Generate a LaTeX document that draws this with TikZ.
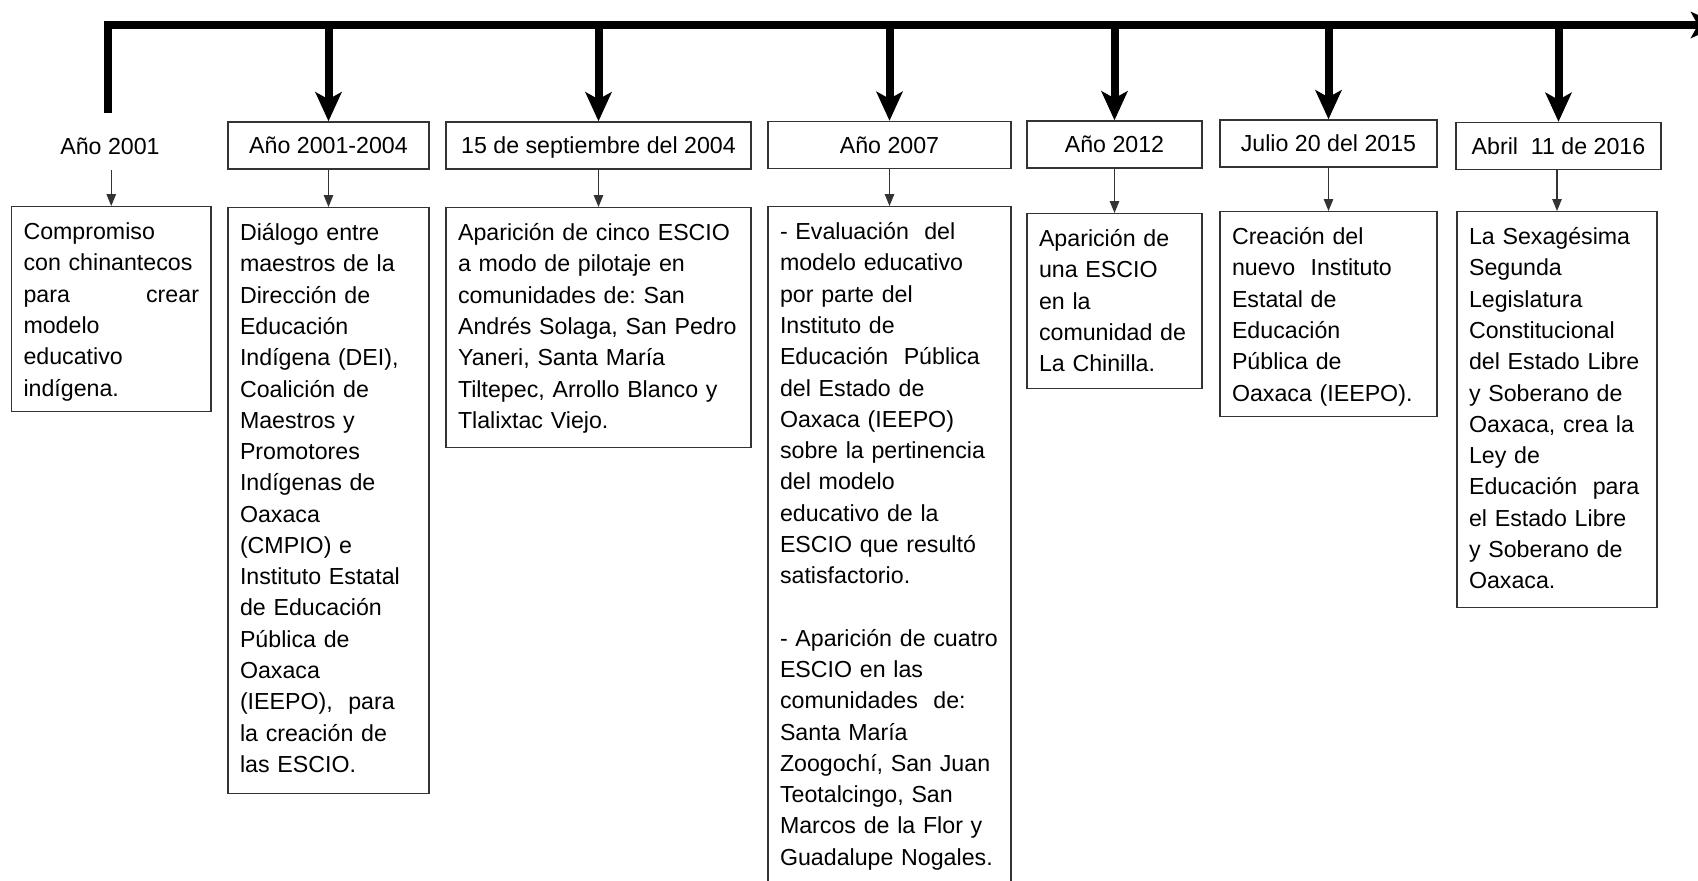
\documentclass[tikz,border=0pt]{standalone}
\usepackage{fontspec}
\setmainfont{Liberation Sans}
\usetikzlibrary{arrows.meta}
\frenchspacing

\tikzset{
  linea/.style={line width=0.16cm, line join=miter},
  flecha/.style={line width=0.16cm, -{Stealth[length=0.58cm,width=0.52cm,inset=0.14cm]}},
  flechita/.style={line width=0.7pt, black!80, -{Triangle[length=0.24cm,width=0.19cm]}},
  encabezado/.style={draw=black!80, line width=0.8pt, inner sep=0pt, minimum height=0.94cm,
    text height=9.5pt, text depth=0pt, font=\fontsize{13.2pt}{17.8pt}\selectfont},
  detalle/.style={draw=black!80, line width=0.8pt, anchor=north, align=left,
    inner xsep=0.24cm, inner ysep=0pt, text height=0.66cm, font=\fontsize{13.2pt}{17.8pt}\selectfont},
}

\begin{document}
\begin{tikzpicture}[x=0.02cm, y=-0.02cm]
\clip (0,0) rectangle (1698,880);

% Linea de tiempo
\coordinate (ini) at (108,113);
\coordinate (fin) at (1720,25);
\draw[linea, -{Stealth[length=0.58cm,width=0.52cm,inset=0.14cm]}] (ini) |- (fin);

% Fechas
\node[encabezado, draw=none] (h1) at (110,146) {Año 2001};
\node[encabezado, minimum width=4.02cm] (h2) at (328.5,145.5) {Año 2001-2004};
\node[encabezado, minimum width=6.1cm] (h3) at (598.5,145.5) {15 de septiembre del 2004};
\node[encabezado, minimum width=4.86cm] (h4) at (889.5,145) {Año 2007};
\node[encabezado, minimum width=3.5cm] (h5) at (1114.5,144.5) {Año 2012};
\node[encabezado, minimum width=4.34cm] (h6) at (1328.5,143.5) {Julio 20 del 2015};
\node[encabezado, minimum width=4.1cm] (h7) at (1558.5,146) {Abril\ \ 11 de 2016};

% Acontecimientos
\node[detalle, text width=3.51cm, text depth=3.44cm] (d1) at (111.25,206)
  {Compromiso\\con chinantecos\\para\hfill crear\\modelo\\educativo\\indígena.};
\node[detalle, text width=3.54cm, text depth=11.06cm] (d2) at (328.5,207)
  {Diálogo entre\\maestros de la\\Dirección de\\Educación\\Indígena (DEI),\\Coalición de\\Maestros y\\Promotores\\Indígenas de\\Oaxaca\\(CMPIO) e\\Instituto Estatal\\de Educación\\Pública de\\Oaxaca\\(IEEPO),\ \ para\\la creación de\\las ESCIO.};
\node[detalle, text width=5.62cm, text depth=4.14cm] (d3) at (598.5,207)
  {Aparición de cinco ESCIO\\a modo de pilotaje en\\comunidades de: San\\Andrés Solaga, San Pedro\\Yaneri, Santa María\\Tiltepec, Arrollo Blanco y\\Tlalixtac Viejo.};
\node[detalle, text width=4.38cm, text depth=13.22cm] (d4) at (889.5,206)
  {- Evaluación\ \ del\\modelo educativo\\por parte del\\Instituto de\\Educación\ \ Pública\\del Estado de\\Oaxaca (IEEPO)\\sobre la pertinencia\\del modelo\\educativo de la\\ESCIO que resultó\\satisfactorio.\\[17.8pt]
  - Aparición de cuatro\\ESCIO en las\\comunidades\ \ de:\\Santa María\\Zoogochí, San Juan\\Teotalcingo, San\\Marcos de la Flor y\\Guadalupe Nogales.};
\node[detalle, text width=3.02cm, text depth=2.84cm] (d5) at (1114.5,213)
  {Aparición de\\una ESCIO\\en la\\comunidad de\\La Chinilla.};
\node[detalle, text width=3.86cm, text depth=3.44cm] (d6) at (1328.5,211)
  {Creación del\\nuevo\ \ Instituto\\Estatal de\\Educación\\Pública de\\Oaxaca (IEEPO).};
\node[detalle, text width=3.52cm, text depth=7.26cm] (d7) at (1557,211)
  {La Sexagésima\\Segunda\\Legislatura\\Constitucional\\del Estado Libre\\y Soberano de\\Oaxaca, crea la\\Ley de\\Educación\ \ para\\el Estado Libre\\y Soberano de\\Oaxaca.};

% Flechas
\foreach \i in {2,...,7}
  \draw[flecha] (h\i.north |- fin) -- (h\i.north);
\foreach \i in {1,...,7}
  \draw[flechita] (d\i.north |- h\i.south) -- (d\i.north);

\end{tikzpicture}
\end{document}
